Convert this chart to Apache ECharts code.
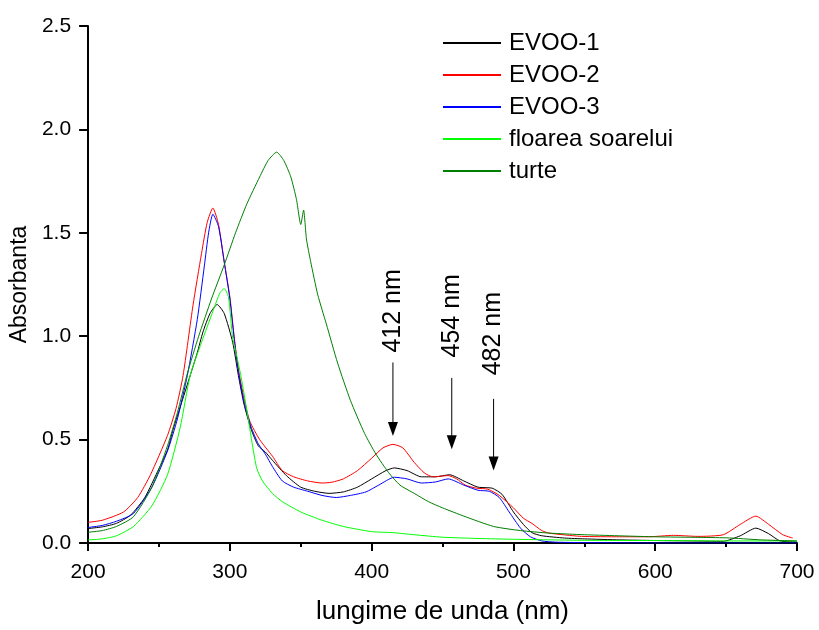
<!DOCTYPE html>
<html><head><meta charset="utf-8">
<script src="https://cdn.jsdelivr.net/npm/echarts@6/dist/echarts.min.js"></script>
<style>html,body{margin:0;padding:0;background:#fff}#c{width:819px;height:630px}</style>
</head><body><div id="c"></div>
<script>
var seriesNames = ['EVOO-1','EVOO-2','EVOO-3','floarea soarelui','turte'];
var xTicks = [200,300,400,500,600,700];
var yTicks = [0.0,0.5,1.0,1.5,2.0,2.5];

var evoo1X = [200,210,220,230,240,250,256,260,266,272,277,281,286,291,296,302,306,310,315,320,325,330,340,350,360,370,380,390,400,410,416,425,435,445,455,465,475,485,492,500,507,513,520,536,550,575,600,625,648,660,671,680,688,700];
var evoo1Y = [0.07,0.078,0.095,0.135,0.22,0.36,0.45,0.55,0.68,0.81,0.92,1.02,1.11,1.153,1.11,0.97,0.81,0.67,0.55,0.47,0.44,0.40,0.325,0.27,0.25,0.24,0.247,0.27,0.31,0.35,0.363,0.35,0.32,0.32,0.33,0.30,0.27,0.265,0.235,0.15,0.09,0.05,0.035,0.024,0.02,0.015,0.012,0.01,0.008,0.035,0.072,0.045,0.01,0.005];

var evoo2X = [200,210,225,235,244,256,262,267,274,280,284,288,292,296,300,303,306,310,314,321,330,337,345,355,365,372,380,390,400,408,415,422,430,437,443,454,460,466,474,482,490,500,507,513,520,525,535,548,575,595,613,630,648,660,671,680,690,697];
var evoo2Y = [0.10,0.11,0.15,0.22,0.33,0.52,0.65,0.81,1.15,1.40,1.55,1.62,1.54,1.36,1.19,1.0,0.84,0.7,0.59,0.5,0.42,0.35,0.32,0.30,0.29,0.294,0.31,0.35,0.41,0.46,0.477,0.46,0.39,0.34,0.32,0.326,0.31,0.28,0.265,0.26,0.23,0.17,0.12,0.095,0.06,0.048,0.04,0.032,0.03,0.03,0.037,0.032,0.04,0.09,0.13,0.09,0.04,0.024];

var evoo3X = [200,210,220,232,245,256,263,270,277,282,285,288,292,296,300,303,306,310,315,320,325,330,337,345,355,365,375,385,396,405,416,425,435,445,454,465,475,483,490,497,505,512,520,530,550,600,700];
var evoo3Y = [0.075,0.085,0.105,0.143,0.27,0.445,0.6,0.81,1.08,1.34,1.5,1.59,1.53,1.36,1.18,0.99,0.83,0.68,0.56,0.48,0.43,0.37,0.30,0.27,0.25,0.23,0.22,0.23,0.247,0.28,0.318,0.31,0.29,0.295,0.31,0.28,0.255,0.25,0.22,0.15,0.072,0.03,0.01,0.004,0.002,0.0,0.0];

var floareaX = [200,210,220,232,245,256,265,272,280,288,293,296,299,302,305,308,312,316,319,323,330,337,350,365,380,400,415,430,450,475,500,550,600,650,700];
var floareaY = [0.015,0.02,0.035,0.08,0.18,0.33,0.56,0.81,0.97,1.12,1.21,1.23,1.19,0.99,0.9,0.8,0.64,0.47,0.36,0.3,0.24,0.2,0.15,0.11,0.08,0.055,0.05,0.04,0.028,0.022,0.018,0.013,0.012,0.01,0.01];

var turteX = [200,210,220,232,245,256,263,270,278,287,296,304,312,321,327,333,338,343,347,350,352,354,357,362,368,376,385,395,403,412,420,430,440,450,465,486,505,525,550,600,650,675,700];
var turteY = [0.052,0.06,0.08,0.127,0.27,0.47,0.63,0.82,1.0,1.18,1.344,1.5,1.64,1.77,1.85,1.89,1.85,1.77,1.66,1.54,1.61,1.47,1.36,1.2,1.06,0.87,0.69,0.53,0.43,0.34,0.28,0.24,0.2,0.17,0.13,0.08,0.06,0.048,0.04,0.03,0.025,0.015,0.01];

var annotLabels = ['412 nm','454 nm','482 nm'];
var annotX = [415, 456.5, 486];
var arrowTopY = [0.873, 0.798, 0.697];
var arrowTipY = [0.517, 0.453, 0.35];
var labelBaseY = [0.921, 0.897, 0.811];

var colors = ['#000000','#ff0000','#0000ff','#00ff00','#008000'];
var xs = [evoo1X, evoo2X, evoo3X, floareaX, turteX];
var ys = [evoo1Y, evoo2Y, evoo3Y, floareaY, turteY];

function zip(a,b){ return a.map(function(v,i){ return [v,b[i]]; }); }

var FONT = '"Liberation Sans", Arial, sans-serif';
var chart = echarts.init(document.getElementById('c'), null, {renderer:'canvas'});
var series = seriesNames.map(function(n,i){
  return {
    name: n, type: 'line', data: zip(xs[i], ys[i]), smooth: 0.2,
    symbol: 'none', lineStyle: {color: colors[i], width: 1}, itemStyle:{color: colors[i]},
    animation: false, z: 2
  };
});

chart.setOption({
  animation: false,
  backgroundColor: '#ffffff',
  grid: {left: 84, right: 22, top: 26, bottom: 80, containLabel: false},
  legend: {
    orient: 'vertical', left: 443, top: 31, padding: 0, itemWidth: 58, itemHeight: 2, itemGap: 8,
    icon: 'rect',
    textStyle: {fontFamily: FONT, fontSize: 24, color: '#000', lineHeight: 24, padding: [0,0,0,3]},
    data: seriesNames
  },
  xAxis: {
    type: 'value', min: 200, max: 700, interval: 100,
    name: 'lungime de unda (nm)', nameLocation: 'middle', nameGap: 56,
    nameTextStyle: {fontFamily: FONT, fontSize: 26, color: '#000'},
    axisLine: {show: true, onZero: false, lineStyle: {color: '#000', width: 2}},
    axisTick: {show: true, inside: false, length: 8, lineStyle: {color: '#000', width: 2}},
    minorTick: {show: true, splitNumber: 2, length: 4, lineStyle: {color: '#000', width: 2}},
    axisLabel: {fontFamily: FONT, fontSize: 21, color: '#000', margin: 19},
    splitLine: {show: false}
  },
  yAxis: {
    type: 'value', min: 0, max: 2.5, interval: 0.5,
    name: 'Absorbanta', nameLocation: 'middle', nameGap: 42,
    nameTextStyle: {fontFamily: FONT, fontSize: 23, color: '#000'},
    axisLine: {show: true, onZero: false, lineStyle: {color: '#000', width: 2}},
    axisTick: {show: true, inside: false, length: 9, lineStyle: {color: '#000', width: 2}},
    axisLabel: {fontFamily: FONT, fontSize: 21, color: '#000', margin: 17,
      formatter: function(v){ return v.toFixed(1); }},
    splitLine: {show: false}
  },
  series: series
});

var g = [];
for (var i = 0; i < annotLabels.length; i++) {
  var pTop = chart.convertToPixel({gridIndex:0}, [annotX[i], arrowTopY[i]]);
  var pTip = chart.convertToPixel({gridIndex:0}, [annotX[i], arrowTipY[i]]);
  var pLab = chart.convertToPixel({gridIndex:0}, [annotX[i], labelBaseY[i]]);
  var headLen = 14, headW = 5;
  g.push({type:'line', shape:{x1: pTop[0], y1: pTop[1], x2: pTip[0], y2: pTip[1]-headLen+2}, style:{stroke:'#000', lineWidth:1}, z: 10});
  g.push({type:'polygon', shape:{points:[[pTip[0]-headW, pTip[1]-headLen],[pTip[0]+headW, pTip[1]-headLen],[pTip[0], pTip[1]]]}, style:{fill:'#000'}, z: 10});
  g.push({type:'text', x: pLab[0], y: pLab[1], rotation: Math.PI/2,
    style:{text: annotLabels[i], font: '25px ' + FONT, fill:'#000', align:'left', verticalAlign:'middle'}, z: 10});
}
chart.setOption({graphic: g});
</script>
</body></html>
